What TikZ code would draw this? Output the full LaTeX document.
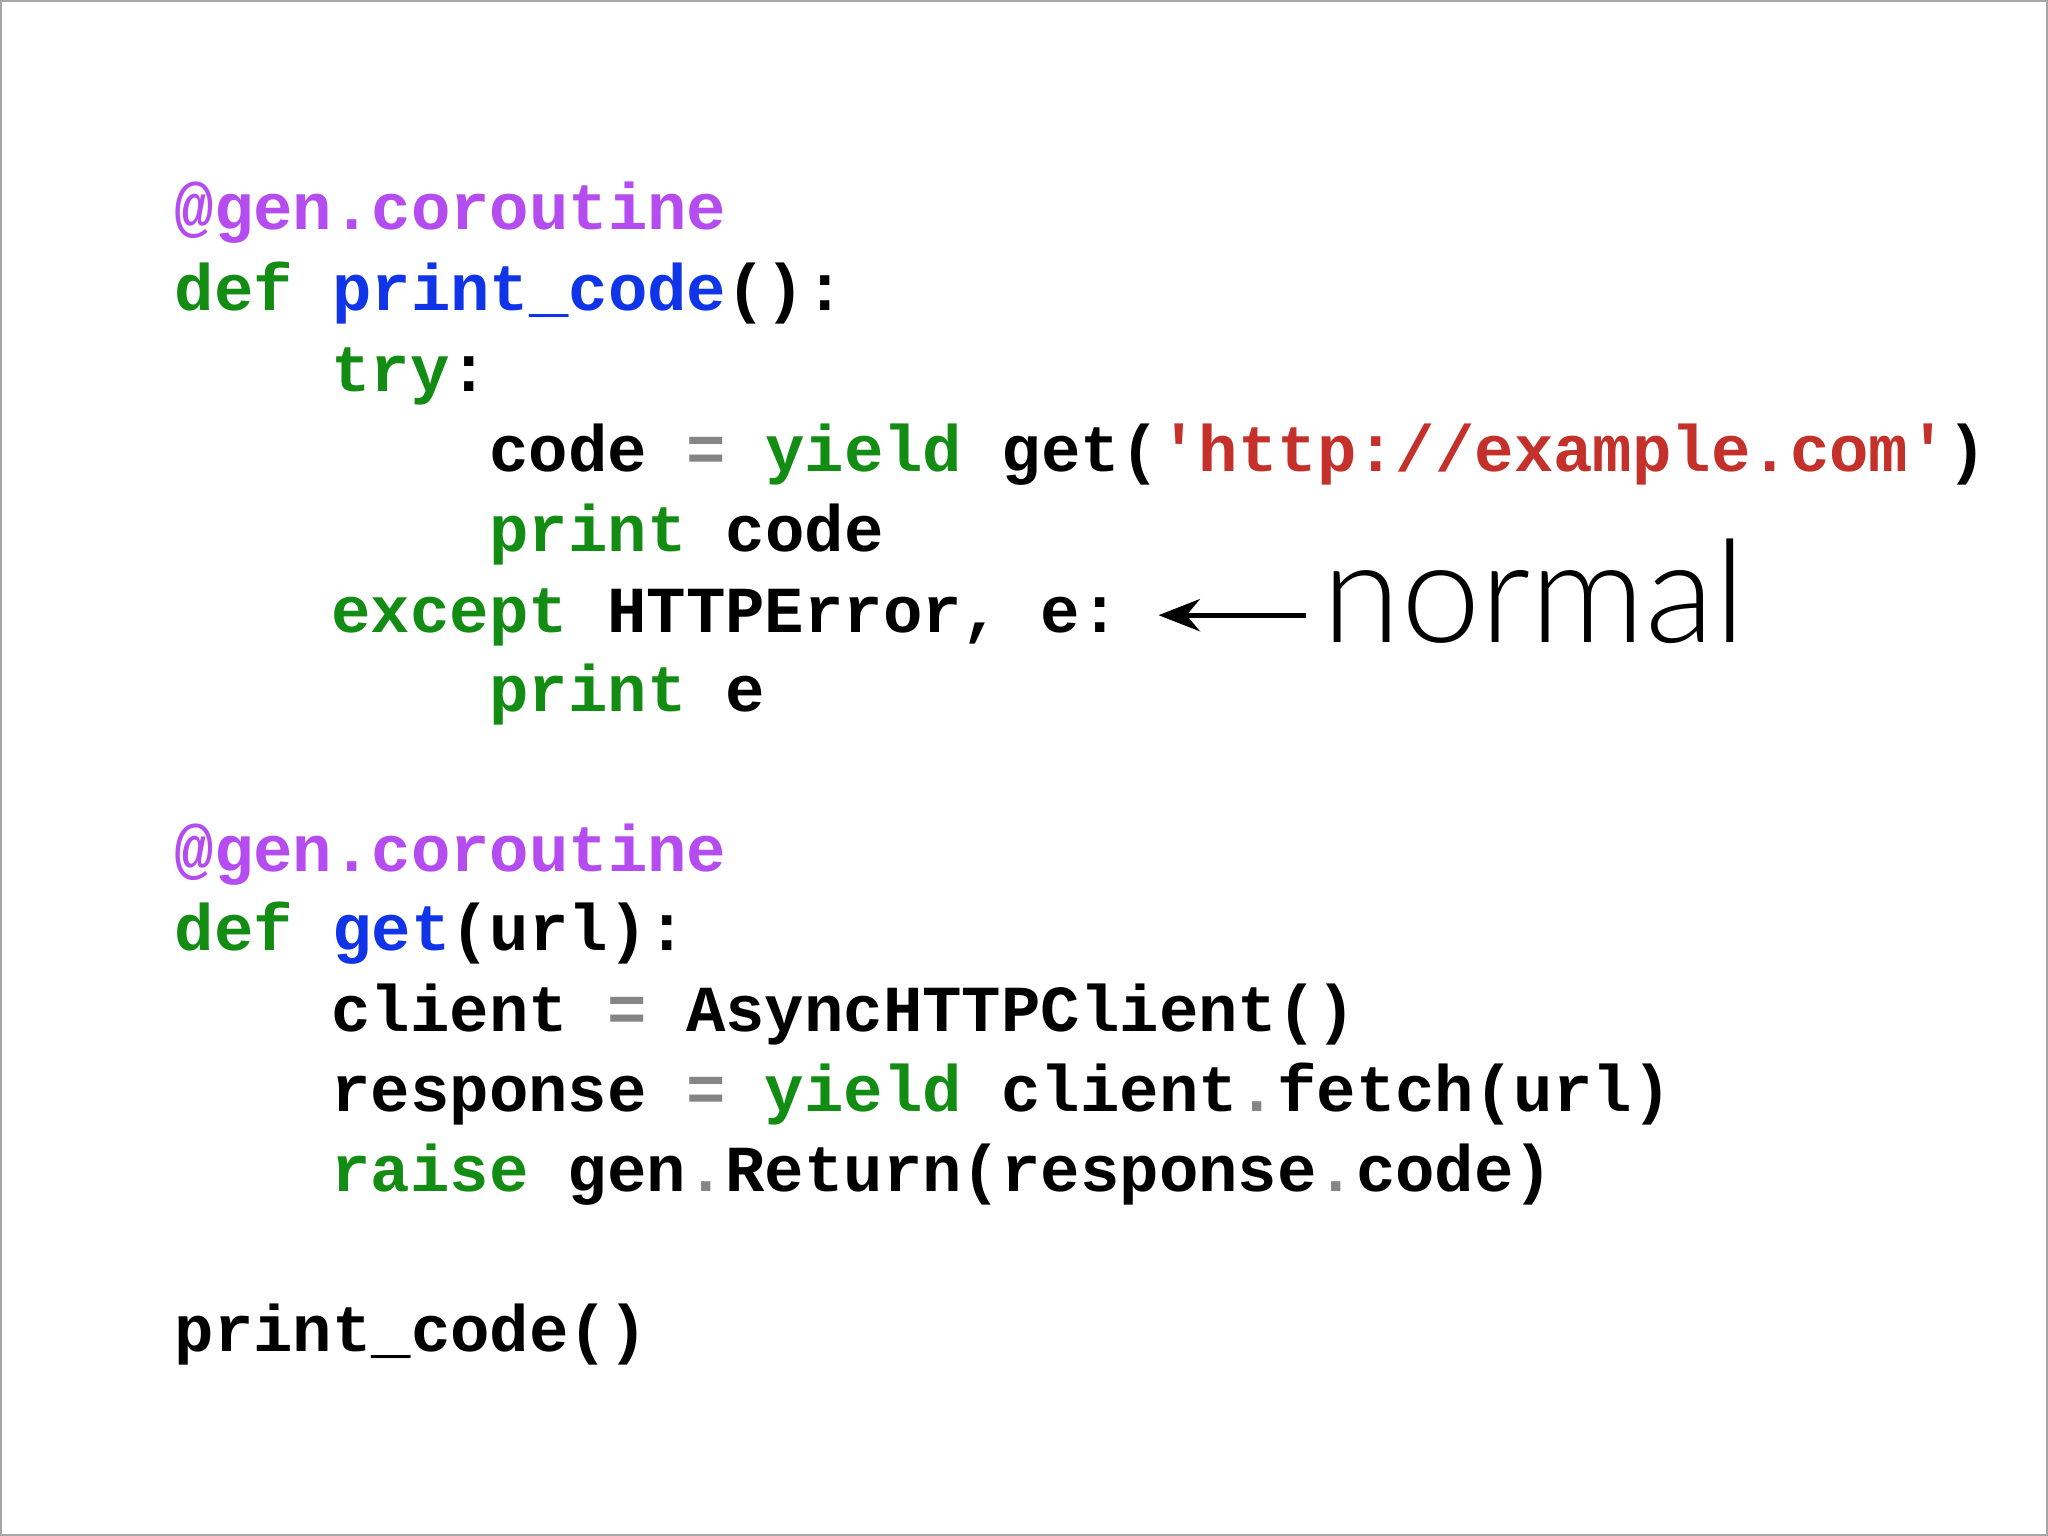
\documentclass[tikz,border=0pt]{standalone}
\usepackage{fontspec}
\setmonofont{Liberation Mono}
\newfontfamily\lato{Lato Light}
\usetikzlibrary{arrows.meta}
\definecolor{cpur}{HTML}{B44CF0}
\definecolor{cblu}{HTML}{1034E8}
\definecolor{cgrn}{HTML}{138C13}
\definecolor{cred}{HTML}{C4302A}
\definecolor{cgry}{HTML}{858585}
\newcommand{\Pu}[1]{\textcolor{cpur}{#1}}
\newcommand{\Bl}[1]{\textcolor{cblu}{#1}}
\newcommand{\Gr}[1]{\textcolor{cgrn}{#1}}
\newcommand{\Rd}[1]{\textcolor{cred}{#1}}
\newcommand{\Gy}[1]{\textcolor{cgry}{#1}}
\begin{document}
\begin{tikzpicture}[x=0.01cm,y=-0.01cm,
  code/.style={anchor=base west,inner sep=0pt,font=\ttfamily\bfseries\fontsize{14.3}{16}\selectfont}]
\useasboundingbox (0,0) rectangle (1568,1176);
\draw[gray!70,line width=0.6pt] (0.5,0.5) rectangle (1567.5,1175.5);
\node[code] (l1) at (133,176) {\Pu{@gen.coroutine}};
\node[code] (l2) at (133,238) {\Gr{def} \Bl{print\_code}():};
\node[code] (l3) at (253,300) {\Gr{try}:};
\node[code] (l4) at (374,361) {code \Gy{=} \Gr{yield} get(\Rd{'http://example.com'})};
\node[code] (l5) at (374,422) {\Gr{print} code};
\node[code] (l6) at (253,484) {\Gr{except} HTTPError, e:};
\node[code] (l7) at (374,545) {\Gr{print} e};
\node[code] (l8) at (133,667) {\Pu{@gen.coroutine}};
\node[code] (l9) at (133,728) {\Gr{def} \Bl{get}(url):};
\node[code] (l10) at (253,790) {client \Gy{=} AsyncHTTPClient()};
\node[code] (l11) at (253,851) {response \Gy{=} \Gr{yield} client\Gy{.}fetch(url)};
\node[code] (l12) at (253,912) {\Gr{raise} gen\Gy{.}Return(response\Gy{.}code)};
\node[code] (l13) at (133,1035) {print\_code()};
\node[anchor=base west,inner sep=0pt,font=\lato\fontsize{31}{36}\selectfont] (nm) at (1012,492) {normal};
\coordinate (ae) at (887,471);
\draw[-{Stealth[length=9pt,width=7pt]},line width=1.1pt] (nm.west |- ae) ++(-12,0) -- (ae);
\end{tikzpicture}
\end{document}
